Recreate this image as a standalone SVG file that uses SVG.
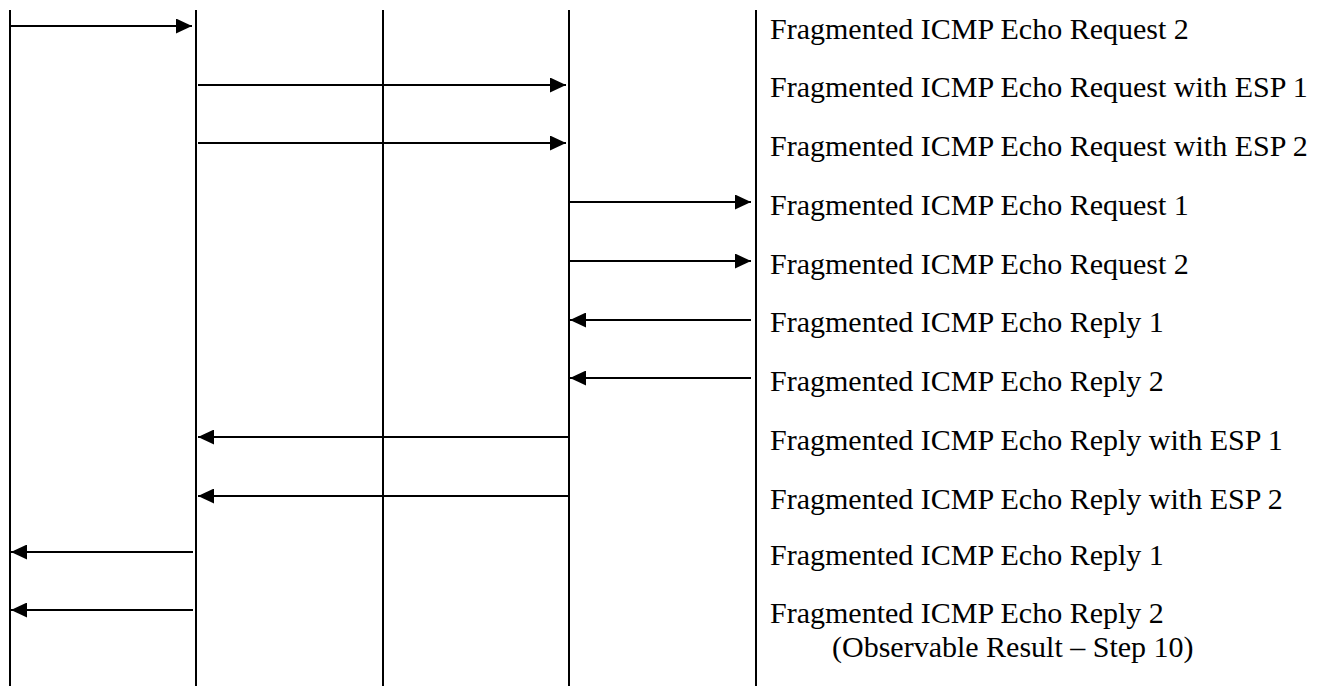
<svg xmlns="http://www.w3.org/2000/svg" width="1324" height="686" viewBox="0 0 1324 686">
  <style>
    .life { stroke: #000; stroke-width: 2; }
    .msg { stroke: #000; stroke-width: 2; fill: none; marker-end: url(#arrow); }
    .lbl { font-family: "Liberation Serif", "Times New Roman", serif; font-size: 30px; fill: #000; }
  </style>
  <defs>
    <marker id="arrow" markerUnits="userSpaceOnUse" markerWidth="16" markerHeight="15" refX="16" refY="7.5" orient="auto">
      <path d="M0,0 L16,7.5 L0,15 z" fill="#000"/>
    </marker>
  </defs>
  <rect width="1324" height="686" fill="#fff"/>
  <g id="lifelines">
    <g id="lifeline-1"><line class="life" x1="10" y1="10" x2="10" y2="686"/></g>
    <g id="lifeline-2"><line class="life" x1="196" y1="10" x2="196" y2="686"/></g>
    <g id="lifeline-3"><line class="life" x1="383" y1="10" x2="383" y2="686"/></g>
    <g id="lifeline-4"><line class="life" x1="569" y1="10" x2="569" y2="686"/></g>
    <g id="lifeline-5"><line class="life" x1="756" y1="10" x2="756" y2="686"/></g>
  </g>
  <g id="connectors">
    <line class="msg" x1="11" y1="26" x2="192" y2="26"/>
    <line class="msg" x1="198" y1="85" x2="566" y2="85"/>
    <line class="msg" x1="198" y1="143" x2="566" y2="143"/>
    <line class="msg" x1="570" y1="202" x2="751" y2="202"/>
    <line class="msg" x1="570" y1="261" x2="751" y2="261"/>
    <line class="msg" x1="751" y1="320" x2="570" y2="320"/>
    <line class="msg" x1="751" y1="378" x2="570" y2="378"/>
    <line class="msg" x1="569" y1="437" x2="198" y2="437"/>
    <line class="msg" x1="569" y1="496" x2="198" y2="496"/>
    <line class="msg" x1="193" y1="552" x2="11" y2="552"/>
    <line class="msg" x1="193" y1="610" x2="11" y2="610"/>
  </g>
  <g id="labels">
    <text class="lbl" x="770" y="38.5">Fragmented ICMP Echo Request 2</text>
    <text class="lbl" x="770" y="97">Fragmented ICMP Echo Request with ESP 1</text>
    <text class="lbl" x="770" y="155.5">Fragmented ICMP Echo Request with ESP 2</text>
    <text class="lbl" x="770" y="214.5">Fragmented ICMP Echo Request 1</text>
    <text class="lbl" x="770" y="273.5">Fragmented ICMP Echo Request 2</text>
    <text class="lbl" x="770" y="332">Fragmented ICMP Echo Reply 1</text>
    <text class="lbl" x="770" y="390.5">Fragmented ICMP Echo Reply 2</text>
    <text class="lbl" x="770" y="449.5">Fragmented ICMP Echo Reply with ESP 1</text>
    <text class="lbl" x="770" y="508.5">Fragmented ICMP Echo Reply with ESP 2</text>
    <text class="lbl" x="770" y="564.5">Fragmented ICMP Echo Reply 1</text>
    <text class="lbl" x="770" y="622.5">Fragmented ICMP Echo Reply 2</text>
    <text class="lbl" x="832" y="656.5">(Observable Result – Step 10)</text>
  </g>
</svg>
